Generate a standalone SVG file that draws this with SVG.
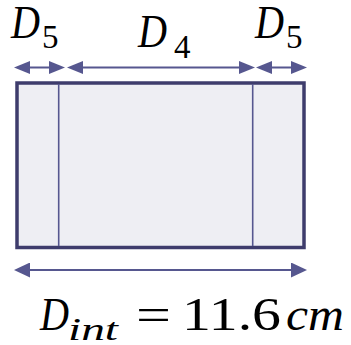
<svg xmlns="http://www.w3.org/2000/svg" width="351" height="345" viewBox="0 0 351 345">
<defs>
<marker id="ah" viewBox="0 0 16 13" refX="8" refY="6.5" markerWidth="16" markerHeight="13" markerUnits="userSpaceOnUse" orient="auto-start-reverse">
<path d="M0,0 L16,6.5 L0,13 z" fill="#56578F"/>
</marker>
<marker id="ahb" viewBox="0 0 16 15" refX="8" refY="7.5" markerWidth="16" markerHeight="15" markerUnits="userSpaceOnUse" orient="auto-start-reverse">
<path d="M0,0 L16,7.5 L0,15 z" fill="#56578F"/>
</marker>
</defs>
<g id="frame">
<rect x="17" y="83" width="287" height="164.5" fill="#EEEEF3" stroke="#3E3C6C" stroke-width="3.5"/>
<line x1="58.7" y1="84" x2="58.7" y2="246" stroke="#56578F" stroke-width="1.6"/>
<line x1="252.7" y1="84" x2="252.7" y2="246" stroke="#56578F" stroke-width="1.6"/>
</g>
<g id="connectors" stroke="#56578F" stroke-width="2" fill="none">
<line x1="22" y1="67.5" x2="57" y2="67.5" marker-start="url(#ah)" marker-end="url(#ah)"/>
<line x1="75" y1="67.5" x2="247" y2="67.5" marker-start="url(#ah)" marker-end="url(#ah)"/>
<line x1="264" y1="67.5" x2="299" y2="67.5" marker-start="url(#ah)" marker-end="url(#ah)"/>
<line x1="22" y1="270" x2="299" y2="270" marker-start="url(#ahb)" marker-end="url(#ahb)"/>
</g>
<g id="label-d5-left">
<text font-family="Liberation Serif" font-style="italic" font-size="46" x="11" y="38" textLength="29" lengthAdjust="spacingAndGlyphs">D</text>
<text font-family="Liberation Serif" font-size="33" x="42" y="48">5</text>
</g>
<g id="label-d4">
<text font-family="Liberation Serif" font-style="italic" font-size="46" x="138" y="47" textLength="29" lengthAdjust="spacingAndGlyphs">D</text>
<text font-family="Liberation Serif" font-size="33" x="174" y="58">4</text>
</g>
<g id="label-d5-right">
<text font-family="Liberation Serif" font-style="italic" font-size="46" x="255" y="38" textLength="29" lengthAdjust="spacingAndGlyphs">D</text>
<text font-family="Liberation Serif" font-size="33" x="286" y="48">5</text>
</g>
<g id="label-dint">
<text font-family="Liberation Serif" font-style="italic" font-size="46" x="40" y="330" textLength="29" lengthAdjust="spacingAndGlyphs">D</text>
<text font-family="Liberation Serif" font-style="italic" font-size="32" x="68" y="340" textLength="50" lengthAdjust="spacingAndGlyphs">int</text>
<text font-family="Liberation Serif" font-size="46" x="136" y="330" textLength="35" lengthAdjust="spacingAndGlyphs">=</text>
<text font-family="Liberation Serif" font-size="46" x="182" y="330" textLength="99" lengthAdjust="spacingAndGlyphs">11.6</text>
<text font-family="Liberation Serif" font-style="italic" font-size="46" x="286" y="330" textLength="58" lengthAdjust="spacingAndGlyphs">cm</text>
</g>
</svg>
